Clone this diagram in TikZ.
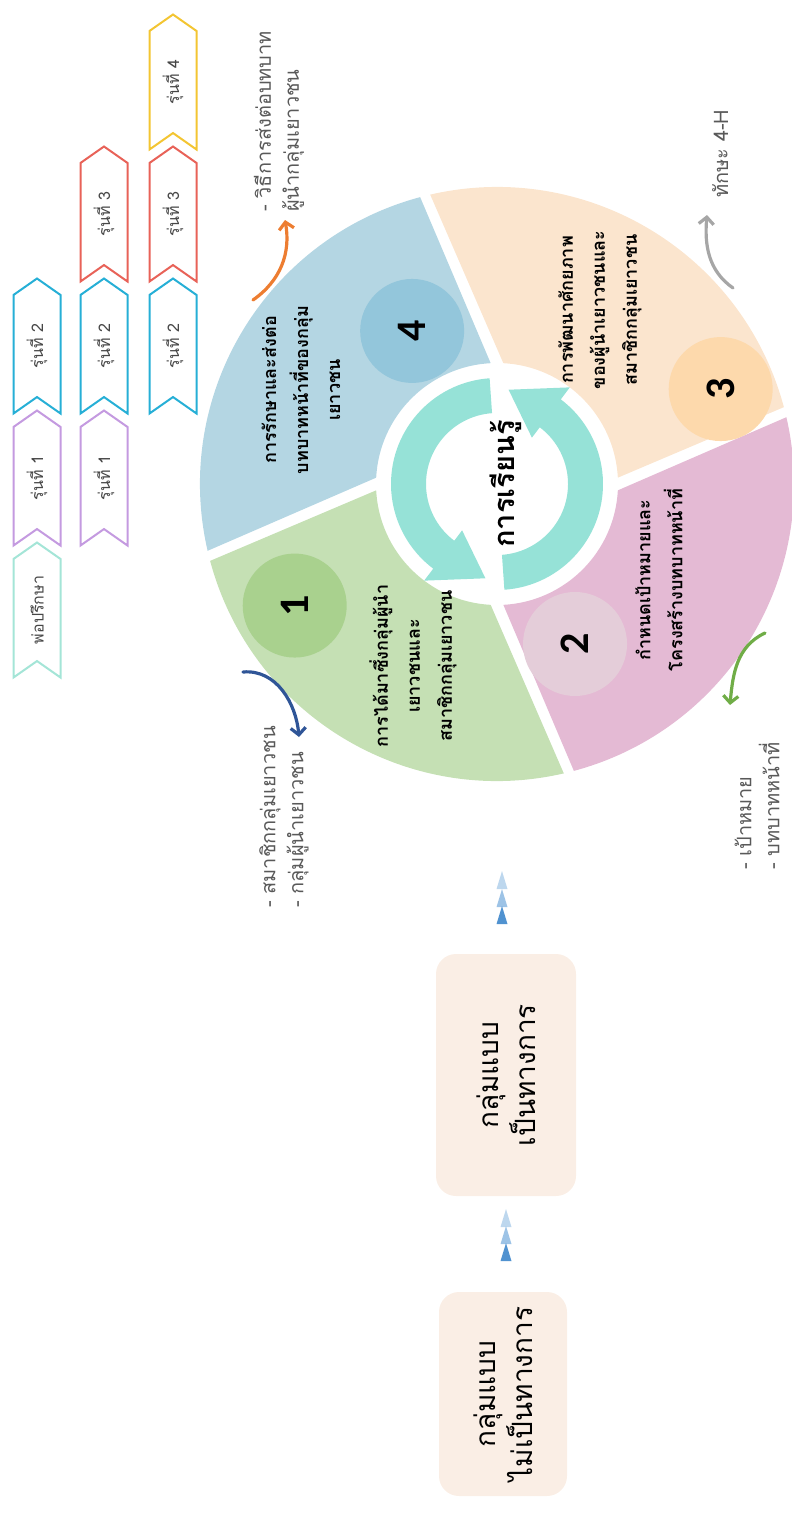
\documentclass[tikz,border=0pt]{standalone}
\usepackage{fontspec}
\setmainfont{Loma}[Script=Thai]
\newfontfamily\numfont{Carlito}
\usepackage{tikz}
\usetikzlibrary{shapes.geometric}
\usetikzlibrary{shapes.symbols}
\usetikzlibrary{arrows.meta}

\definecolor{peachblade}{RGB}{251,229,206}
\definecolor{peachbadge}{RGB}{253,217,172}
\definecolor{blueblade}{RGB}{180,214,227}
\definecolor{bluebadge}{RGB}{147,198,219}
\definecolor{greenblade}{RGB}{197,224,180}
\definecolor{greenbadge}{RGB}{169,209,142}
\definecolor{pinkblade}{RGB}{228,186,212}
\definecolor{pinkbadge}{RGB}{228,205,217}
\definecolor{ringteal}{RGB}{150,226,215}
\definecolor{boxfill}{RGB}{250,238,229}
\definecolor{notegray}{RGB}{89,89,89}
\definecolor{mintline}{RGB}{164,229,215}
\definecolor{purpleline}{RGB}{196,154,224}
\definecolor{blueline}{RGB}{38,175,214}
\definecolor{redline}{RGB}{232,98,88}
\definecolor{yellowline}{RGB}{243,197,50}
\definecolor{orangeline}{RGB}{237,125,49}
\definecolor{grayline}{RGB}{166,166,166}
\definecolor{navyline}{RGB}{47,85,151}
\definecolor{greenline}{RGB}{112,173,71}
\definecolor{trilight}{RGB}{189,215,238}
\definecolor{trimid}{RGB}{157,195,230}
\definecolor{tridark}{RGB}{80,146,208}

\begin{document}
\begin{tikzpicture}[
                x=1pt, y=1pt,
                ribbon/.style = {
                    signal,
                    signal to=east,
                    signal from=west,
                    signal pointer angle=110,
                    draw=#1,
                    line width=2pt,
                    fill=white,
                    minimum width=135pt,
                    minimum height=47pt,
                    inner sep=0pt,
                    rotate=90,
                    text=notegray!80!black,
                    font=\fontsize{16}{18}\selectfont
                },
                badge/.style = {
                    circle,
                    fill=#1,
                    minimum size=104pt,
                    inner sep=0pt,
                    rotate=90,
                    font=\numfont\bfseries\fontsize{42}{42}\selectfont
                },
                bladetext/.style = {
                    rotate=90,
                    align=center,
                    inner sep=0pt,
                    font=\bfseries\fontsize{18}{32}\selectfont
                },
                sidenote/.style = {
                    rotate=90,
                    align=left,
                    anchor=west,
                    inner sep=0pt,
                    text=notegray,
                    font=\fontsize{20}{28}\selectfont
                },
                groupbox/.style = {
                    rounded corners=20pt,
                    fill=boxfill,
                    rotate=90,
                    align=center,
                    inner sep=0pt,
                    font=\fontsize{28}{37}\selectfont
                },
                tri/.style = {
                    isosceles triangle,
                    isosceles triangle stretches,
                    fill=#1,
                    minimum width=11pt,
                    minimum height=18pt,
                    inner sep=0pt,
                    rotate=90
                },
                curvearrow/.style = {
                    draw=#1,
                    line width=3.2pt,
                    line cap=round,
                    -{Straight Barb[length=7pt,width=15pt,line width=3.2pt]}
                }
            ]
            \useasboundingbox (0,0) rectangle (792,-1528);
            % 
            % ribbons, column 1
            \node[ribbon=blueline] (c1r2) at (37,-346) {รุ่นที่ 2};
            \node[ribbon=purpleline] (c1r1) at (37,-478) {รุ่นที่ 1};
            \node[ribbon=mintline] (c1r0) at (37,-610) {พ่อปรึกษา};
            % ribbons, column 2
            \node[ribbon=redline] (c2r3) at (104,-214) {รุ่นที่ 3};
            \node[ribbon=blueline] (c2r2) at (104,-346) {รุ่นที่ 2};
            \node[ribbon=purpleline] (c2r1) at (104,-478) {รุ่นที่ 1};
            % ribbons, column 3
            \node[ribbon=yellowline] (c3r4) at (173,-82) {รุ่นที่ 4};
            \node[ribbon=redline] (c3r3) at (173,-214) {รุ่นที่ 3};
            \node[ribbon=blueline] (c3r2) at (173,-346) {รุ่นที่ 2};
            % 
            % the cycle
            \begin{scope}[shift={(497,-484)}]
                \fill[peachblade] (3:121) -- (15:297) arc[start angle=15, end angle=103, radius=297]
                    -- (87:121) arc[start angle=87, end angle=3, radius=121] -- cycle;
                \fill[blueblade] (93:121) -- (105:297) arc[start angle=105, end angle=193, radius=297]
                    -- (177:121) arc[start angle=177, end angle=93, radius=121] -- cycle;
                \fill[greenblade] (183:121) -- (195:297) arc[start angle=195, end angle=283, radius=297]
                    -- (267:121) arc[start angle=267, end angle=183, radius=121] -- cycle;
                \fill[pinkblade] (273:121) -- (285:297) arc[start angle=285, end angle=373, radius=297]
                    -- (357:121) arc[start angle=357, end angle=273, radius=121] -- cycle;
                % 
                \node[badge=greenbadge] (b1) at (211:236) {1};
                \node[badge=pinkbadge] (b2) at (296:178) {2};
                \node[badge=peachbadge] (b3) at (23:243) {3};
                \node[badge=bluebadge] (b4) at (119:175) {4};
                % 
                \fill[ringteal] (94:106) arc[start angle=94, end angle=233, radius=106]
                    -- (233:121) -- (263:95) -- (233:58) -- (233:71)
                    arc[start angle=233, end angle=94, radius=71] -- cycle;
                \fill[ringteal] (274:106) arc[start angle=274, end angle=413, radius=106]
                    -- (413:121) -- (443:95) -- (413:58) -- (413:71)
                    arc[start angle=413, end angle=274, radius=71] -- cycle;
                % 
                \node[rotate=90, inner sep=0pt, font=\bfseries\fontsize{29}{30}\selectfont] (learn) at (9,0) {การเรียนรู้};
            \end{scope}
            % 
            \node[bladetext] (t1) at (413,-666) {การได้มาซึ่งกลุ่มผู้นำ\\เยาวชนและ\\สมาชิกกลุ่มเยาวชน};
            \node[bladetext] (t2) at (659,-580) {กำหนดเป้าหมายและ\\โครงสร้างบทบาทหน้าที่};
            \node[bladetext] (t3) at (600,-310) {การพัฒนาศักยภาพ\\ของผู้นำเยาวชนและ\\สมาชิกกลุ่มเยาวชน};
            \node[bladetext] (t4) at (301,-390) {การรักษาและส่งต่อ\\บทบาทหน้าที่ของกลุ่ม\\เยาวชน};
            % 
            % notes round the cycle
            \node[sidenote] (n4) at (279,-212) {- วิธีการส่งต่อบทบาท\\ผู้นำกลุ่มเยาวชน};
            \node[sidenote] (n3) at (720,-198) {ทักษะ 4-H};
            \node[sidenote] (n1) at (284,-908) {- สมาชิกกลุ่มเยาวชน\\- กลุ่มผู้นำเยาวชน};
            \node[sidenote] (n2) at (757,-870) {- เป้าหมาย\\- บทบาทหน้าที่};
            % 
            \coordinate (a4s) at (253,-300);
            \coordinate (a4e) at (285,-220);
            \coordinate (a3s) at (733,-288);
            \coordinate (a3e) at (707,-215);
            \coordinate (a1s) at (243,-672);
            \coordinate (a1e) at (299,-737);
            \coordinate (a2s) at (765,-633);
            \coordinate (a2e) at (730,-705);
            \draw[curvearrow=orangeline] (a4s) to[out=35, in=-80] (a4e);
            \draw[curvearrow=grayline] (a3s) to[out=145, in=-95] (a3e);
            \draw[curvearrow=navyline] (a1s) to[out=5, in=95] (a1e);
            \draw[curvearrow=greenline] (a2s) to[out=205, in=85] (a2e);
            % 
            % groups
            \node[groupbox, minimum width=242pt, minimum height=140pt] (formal) at (506,-1075) {กลุ่มแบบ\\เป็นทางการ};
            \node[groupbox, minimum width=204pt, minimum height=128pt] (informal) at (503,-1394) {กลุ่มแบบ\\ไม่เป็นทางการ};
            % 
            \node[tri=trilight] (u1) at (502,-885) {};
            \node[tri=trimid] (u2) at (502,-903) {};
            \node[tri=tridark] (u3) at (502,-920) {};
            % 
            \node[tri=trilight] (d1) at (506,-1223) {};
            \node[tri=trimid] (d2) at (506,-1240) {};
            \node[tri=tridark] (d3) at (506,-1257) {};
            % 
        \end{tikzpicture}
\end{document}
